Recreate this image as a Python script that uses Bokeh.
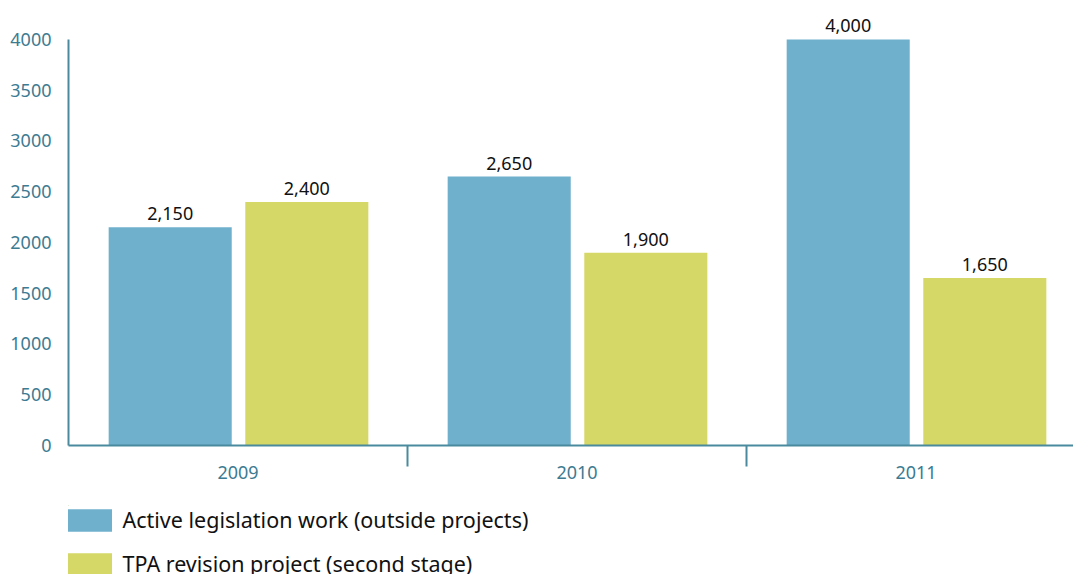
from bokeh.plotting import figure
from bokeh.layouts import column
from bokeh.models import (ColumnDataSource, Range1d, FixedTicker, Legend, LegendItem)
from bokeh.transform import dodge
from bokeh.core.properties import value
from bokeh.embed import file_html
from bokeh.resources import INLINE

# ---- data ----
years = ["2009", "2010", "2011"]
active = [2150, 2650, 4000]
tpa = [2400, 1900, 1650]
series_names = ["Active legislation work (outside projects)",
                "TPA revision project (second stage)"]
y_ticks = [0, 500, 1000, 1500, 2000, 2500, 3000, 3500, 4000]

BLUE = "#6fb0cd"
YELLOW = "#d5d866"
AXIS = "#4a8a9e"
LABEL = "#3d7b92"
FONT = "Noto Sans"

xpos = [i + 0.5 for i in range(len(years))]
src = ColumnDataSource(dict(
    x=xpos, active=active, tpa=tpa,
    active_lbl=["{:,}".format(v) for v in active],
    tpa_lbl=["{:,}".format(v) for v in tpa],
))

p = figure(width=1073, height=505, output_backend="svg", toolbar_location=None,
           x_range=Range1d(0, 2.9646), y_range=Range1d(0, 4384),
           min_border_left=68, min_border_right=0, min_border_top=0,
           min_border_bottom=60)
p.outline_line_color = None
p.grid.visible = False

r1 = p.vbar(x=dodge("x", -0.2, range=p.x_range), top="active", width=0.363,
            source=src, fill_color=BLUE, line_color=None)
r2 = p.vbar(x=dodge("x", 0.203, range=p.x_range), top="tpa", width=0.363,
            source=src, fill_color=YELLOW, line_color=None)

for col, lbl, dx in (("active", "active_lbl", -0.2), ("tpa", "tpa_lbl", 0.203)):
    p.text(x=dodge("x", dx, range=p.x_range), y=col, text=lbl, source=src,
           text_align="center", text_baseline="bottom", y_offset=-7,
           text_font=value(FONT), text_font_size="18px", text_color="#111111")

# x axis
xa = p.xaxis[0]
xa.ticker = FixedTicker(ticks=xpos, minor_ticks=[1, 2])
xa.major_label_overrides = {x: y for x, y in zip(xpos, years)}
xa.major_tick_out = 0
xa.major_tick_in = 0
xa.minor_tick_out = 21
xa.minor_tick_in = 0
xa.minor_tick_line_color = AXIS
xa.minor_tick_line_width = 2
xa.axis_line_color = AXIS
xa.axis_line_width = 2
xa.major_label_standoff = -1
xa.major_label_text_font = FONT
xa.major_label_text_font_size = "18px"
xa.major_label_text_color = LABEL

# y axis
ya = p.yaxis[0]
ya.ticker = FixedTicker(ticks=y_ticks, minor_ticks=[])
ya.bounds = (0, 4000)
ya.major_tick_out = 0
ya.major_tick_in = 0
ya.minor_tick_line_color = None
ya.axis_line_color = AXIS
ya.axis_line_width = 2
ya.major_label_standoff = 17
ya.major_label_text_font = FONT
ya.major_label_text_font_size = "18px"
ya.major_label_text_color = LABEL

# legend strip below the chart (its series lie outside the view; only the legend shows)
p2 = figure(width=1073, height=69, output_backend="svg", toolbar_location=None,
            x_axis_type=None, y_axis_type=None,
            x_range=Range1d(10, 11), y_range=Range1d(-2, -1),
            min_border=0, min_border_left=68, min_border_right=0,
            min_border_top=0, min_border_bottom=0)
p2.grid.visible = False
p2.outline_line_color = None
l1 = p2.vbar(x="x", top="active", width=0.363, source=src,
             fill_color=BLUE, line_color=None)
l2 = p2.vbar(x="x", top="tpa", width=0.363, source=src,
             fill_color=YELLOW, line_color=None)

legend = Legend(items=[LegendItem(label=series_names[0], renderers=[l1]),
                       LegendItem(label=series_names[1], renderers=[l2])],
                location=(-6.5, -4.2), orientation="vertical",
                glyph_width=55, glyph_height=28, label_height=28,
                spacing=15, label_standoff=6, padding=0, margin=0,
                border_line_color=None, background_fill_alpha=0,
                label_text_font=FONT, label_text_font_size="21.5px",
                label_text_color="#111111")
p2.add_layout(legend, "center")

layout = column(p, p2, spacing=0)
open("out.html", "w").write(file_html(layout, INLINE))
